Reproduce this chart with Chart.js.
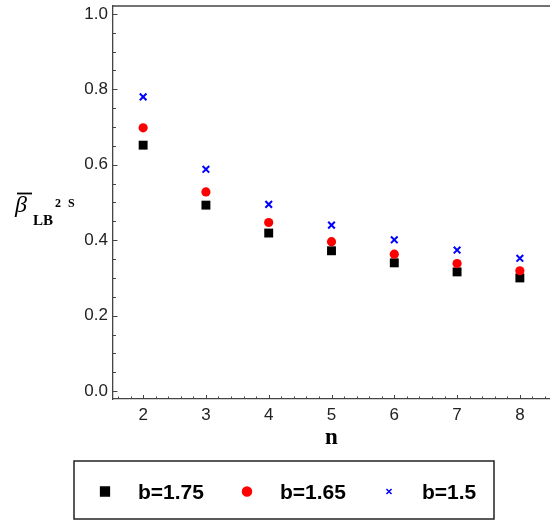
<!DOCTYPE html>
<html>
<head>
<meta charset="utf-8">
<script src="https://cdn.jsdelivr.net/npm/chart.js"></script>
<style>
  html, body { margin: 0; padding: 0; background: #fff; }
  canvas { display: block; }
</style>
</head>
<body>
<canvas id="betaChart" width="550" height="520"></canvas>
<script>
// 数据：n 与三组 b 值
const nValues = [2, 3, 4, 5, 6, 7, 8];
const seriesLabels = ['b=1.75', 'b=1.65', 'b=1.5'];
const beta175 = [0.652, 0.493, 0.419, 0.372, 0.340, 0.316, 0.300];
const beta165 = [0.698, 0.528, 0.447, 0.396, 0.363, 0.338, 0.319];
const beta150 = [0.780, 0.588, 0.495, 0.440, 0.401, 0.374, 0.352];

// 刻度
const xTicks = [2, 3, 4, 5, 6, 7, 8];
const yTicks = [0.0, 0.2, 0.4, 0.6, 0.8, 1.0];

const axisColor = '#444';
const tickFont = { family: '"Liberation Sans", Arial, sans-serif', size: 17 };

function toPoints(values) {
    return nValues.map((n, i) => ({ x: n, y: values[i] }));
}

// 内向刻度（含次刻度）
const innerTicks = {
    id: 'innerTicks',
    afterDraw(chart) {
        const { ctx, chartArea, scales } = chart;
        ctx.save();
        ctx.strokeStyle = axisColor;
        ctx.lineWidth = 1;
        // x 轴
        const xs = scales.x;
        for (let k = Math.ceil(xs.min * 5); k <= Math.floor(xs.max * 5); k++) {
            const v = k / 5;
            const major = k % 5 === 0;
            const px = Math.round(xs.getPixelForValue(v)) + 0.5;
            ctx.beginPath();
            ctx.moveTo(px, chartArea.bottom);
            ctx.lineTo(px, chartArea.bottom - (major ? 4 : 2.5));
            ctx.stroke();
        }
        // y 轴
        const ys = scales.y;
        for (let k = Math.ceil(ys.min * 20); k <= Math.floor(ys.max * 20); k++) {
            const v = k / 20;
            const major = k % 4 === 0;
            const py = Math.round(ys.getPixelForValue(v)) + 0.5;
            ctx.beginPath();
            ctx.moveTo(chartArea.left, py);
            ctx.lineTo(chartArea.left + (major ? 4.5 : 3), py);
            ctx.stroke();
        }
        // 顶部边框
        ctx.lineWidth = 1.3;
        ctx.beginPath();
        ctx.moveTo(chartArea.left, chartArea.top);
        ctx.lineTo(chartArea.right, chartArea.top);
        ctx.stroke();
        ctx.restore();
    }
};

// y 轴标题：β̄_LB^{2S}
const yTitle = {
    id: 'yTitle',
    afterDraw(chart) {
        const ctx = chart.ctx;
        ctx.save();
        ctx.fillStyle = '#000';
        ctx.strokeStyle = '#000';
        ctx.textBaseline = 'alphabetic';
        ctx.font = 'italic 24px "Liberation Serif", serif';
        ctx.fillText('β', 15, 212);
        ctx.lineWidth = 1.8;
        ctx.beginPath();
        ctx.moveTo(17, 193.5);
        ctx.lineTo(32, 193.5);
        ctx.stroke();
        ctx.font = 'bold 15px "Liberation Serif", serif';
        ctx.fillText('LB', 33, 225);
        ctx.font = 'bold 12px "Liberation Serif", serif';
        ctx.fillText('2', 55, 207);
        ctx.fillText('S', 68, 207);
        ctx.restore();
    }
};

// 底部带框图例
const boxLegend = {
    id: 'boxLegend',
    afterDraw(chart) {
        const ctx = chart.ctx;
        const box = { left: 74, top: 461, right: 494, bottom: 519 };
        ctx.save();
        ctx.strokeStyle = '#222';
        ctx.lineWidth = 1.5;
        ctx.strokeRect(box.left, box.top, box.right - box.left, box.bottom - box.top);
        const cy = 491.5;
        const legendRadius = [6.2, 4.5, 3.6];
        chart.data.datasets.forEach((ds, i) => {
            const cx = box.left + 31 + i * 142;
            ctx.fillStyle = ds.backgroundColor;
            ctx.strokeStyle = ds.borderColor;
            ctx.lineWidth = i === 2 ? 1.5 : 0;
            Chart.helpers.drawPoint(ctx, {
                pointStyle: ds.pointStyle,
                radius: legendRadius[i],
                rotation: 0,
                borderWidth: ctx.lineWidth
            }, cx, cy);
            ctx.fillStyle = '#000';
            ctx.font = 'bold 21px "Liberation Sans", Arial, sans-serif';
            ctx.textBaseline = 'alphabetic';
            ctx.fillText(ds.label, cx + 33, cy + 7.5);
        });
        ctx.restore();
    }
};

const ctx = document.getElementById('betaChart').getContext('2d');

const betaChart = new Chart(ctx, {
    type: 'scatter',
    data: {
        datasets: [
            {
                label: seriesLabels[0],
                data: toPoints(beta175),
                pointStyle: 'rect',
                pointRadius: 6.3,
                pointBorderWidth: 0,
                backgroundColor: '#000',
                borderColor: '#000',
                order: 2
            },
            {
                label: seriesLabels[1],
                data: toPoints(beta165),
                pointStyle: 'circle',
                pointRadius: 4.6,
                pointBorderWidth: 0,
                backgroundColor: '#ff0000',
                borderColor: '#ff0000',
                order: 1
            },
            {
                label: seriesLabels[2],
                data: toPoints(beta150),
                pointStyle: 'crossRot',
                pointRadius: 4.7,
                pointBorderWidth: 2,
                backgroundColor: '#0000ff',
                borderColor: '#0000ff',
                order: 0
            }
        ]
    },
    options: {
        responsive: false,
        animation: false,
        devicePixelRatio: 1,
        // 关掉 autoPadding，否则点半径会把绘图区右边挤进去
        layout: { autoPadding: false, padding: { top: 6, left: 0, right: 0, bottom: 70 } },
        plugins: {
            legend: { display: false },
            tooltip: { enabled: false }
        },
        scales: {
            x: {
                type: 'linear',
                min: 1.52,
                max: 8.48,
                afterBuildTicks: scale => { scale.ticks = xTicks.map(v => ({ value: v })); },
                afterFit: scale => {
                    scale.height = 51;
                    scale.paddingLeft = 0;
                    scale.paddingRight = 0;
                },
                grid: { display: true, drawOnChartArea: false, drawTicks: false },
                border: { color: axisColor, width: 1.3 },
                ticks: {
                    padding: 6,
                    color: '#222',
                    font: tickFont,
                    maxRotation: 0,
                    callback: v => String(v)
                },
                title: {
                    display: true,
                    text: 'n',
                    color: '#000',
                    padding: 0,
                    font: { family: '"Liberation Serif", serif', size: 23, weight: 'bold', lineHeight: 1 }
                }
            },
            y: {
                type: 'linear',
                min: -0.021,
                max: 1.021,
                afterBuildTicks: scale => { scale.ticks = yTicks.map(v => ({ value: v })); },
                afterFit: scale => {
                    scale.width = 113;
                    scale.paddingTop = 0;
                    scale.paddingBottom = 0;
                },
                grid: { display: true, drawOnChartArea: false, drawTicks: false },
                border: { color: axisColor, width: 1.3 },
                ticks: {
                    padding: 5,
                    color: '#222',
                    font: tickFont,
                    callback: v => v.toFixed(1)
                }
            }
        }
    },
    plugins: [innerTicks, yTitle, boxLegend]
});
</script>
</body>
</html>
